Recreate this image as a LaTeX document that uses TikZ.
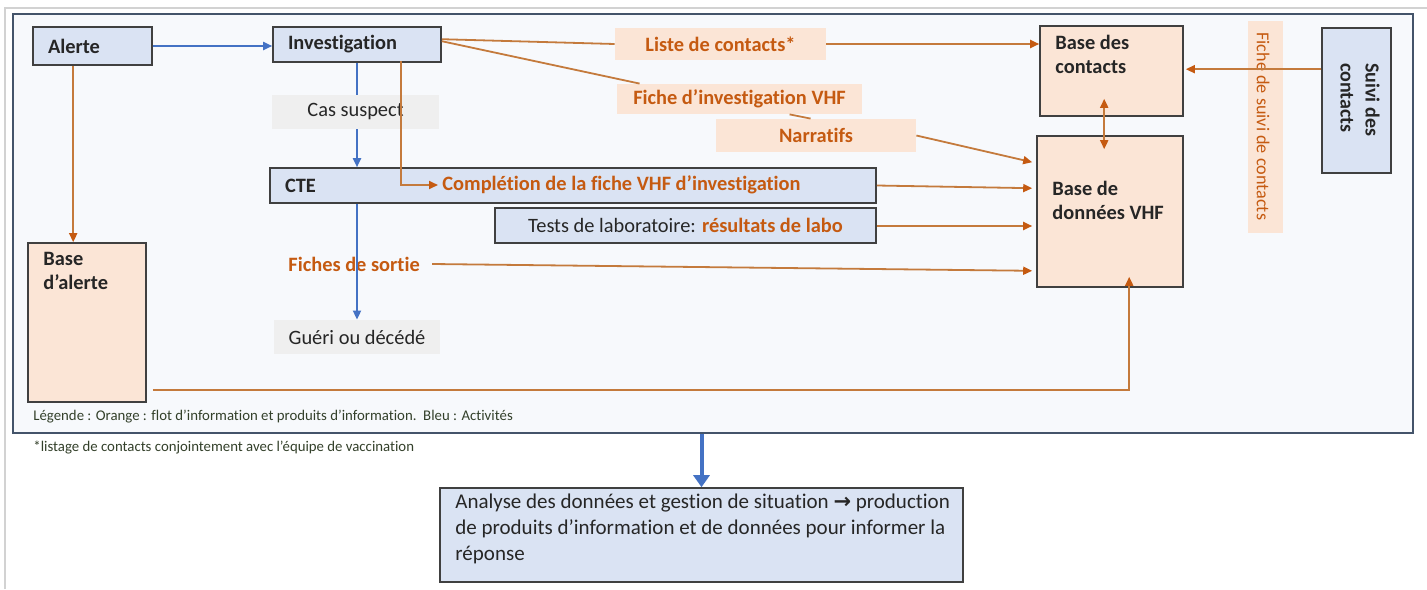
\documentclass[tikz,border=0pt]{standalone}
\usepackage{fontspec}
\setmainfont{Carlito}[Ligatures=NoCommon]
\newfontfamily\symf{DejaVu Sans}
\usetikzlibrary{arrows.meta,calc}
\definecolor{boxblue}{HTML}{DAE3F3}
\definecolor{peach}{HTML}{FBE5D6}
\definecolor{orangeT}{HTML}{C55A11}
\definecolor{orangeL}{HTML}{C47A3C}
\definecolor{blueL}{HTML}{4472C4}
\definecolor{grayfill}{HTML}{EFEFEF}
\definecolor{framebg}{HTML}{F7F9FC}
\definecolor{frameln}{HTML}{44546A}
\definecolor{boxln}{HTML}{404040}
\definecolor{txt}{HTML}{262626}
\definecolor{legtxt}{HTML}{33402A}
\begin{document}
\begin{tikzpicture}[x=0.5pt,y=-0.5pt,
  font=\fontsize{10.2}{12.5}\selectfont,
  bluebox/.style={draw=boxln, fill=boxblue, line width=0.8pt, inner sep=0pt, text=txt},
  peachbox/.style={draw=boxln, fill=peach, line width=0.8pt, inner sep=0pt},
  graybox/.style={fill=grayfill, inner sep=0pt, text=txt},
  tag/.style={fill=peach, inner sep=0pt, text=orangeT, font=\fontsize{10.2}{12.5}\selectfont\bfseries},
  btext/.style={inner sep=0pt, text=txt, font=\fontsize{10.2}{12}\selectfont\bfseries, align=left},
  otext/.style={inner sep=0pt, text=orangeT, font=\fontsize{10.2}{12.5}\selectfont\bfseries},
  oline/.style={draw=orangeL, line width=0.9pt},
  oarrow/.style={oline, -{Triangle[length=4.5pt,width=4pt,color=orangeT]}},
  obiarrow/.style={oline, {Triangle[length=4.5pt,width=4pt,color=orangeT]}-{Triangle[length=4.5pt,width=4pt,color=orangeT]}},
  bline/.style={draw=blueL, line width=0.9pt},
  barrow/.style={bline, -{Triangle[length=4.5pt,width=4pt]}},
  bigarrow/.style={draw=blueL, line width=2pt, -{Triangle[length=6pt,width=8pt]}},
  smalltext/.style={inner sep=0pt, text=legtxt, font=\fontsize{7.4}{9}\selectfont}
]
\useasboundingbox (0,0) rectangle (1427,589);
\fill[white] (0,0) rectangle (1427,589);
\draw[gray!35, line width=1pt] (5,589) -- (5,8) -- (1427,8);

% main frame
\node[draw=frameln, fill=framebg, line width=1pt, minimum width=700pt, minimum height=209.5pt, inner sep=0pt] (frame) at (713,223.5) {};

% activity boxes
\node[bluebox, minimum width=59.5pt, minimum height=19pt, text width=44.5pt, align=left, font=\fontsize{10.2}{12}\selectfont\bfseries] (alerte) at (92.5,46) {Alerte};
\node[bluebox, minimum width=84pt, minimum height=17.5pt, text width=69pt, align=left, font=\fontsize{10.2}{12}\selectfont\bfseries] (invest) at (357,44.5) {Investigation};
\node[graybox, minimum width=83.5pt, minimum height=17pt] (cas) at (355.5,112) {Cas suspect};
\node[bluebox, minimum width=303pt, minimum height=17.5pt, text width=288pt, align=left, font=\fontsize{10.2}{12}\selectfont\bfseries] (cte) at (573,185.5) {CTE};
\node[otext, anchor=west] (compl) at (442,185) {Complétion de la fiche VHF d’investigation};
\node[bluebox, minimum width=190.5pt, minimum height=17.5pt] (tests) at (685.5,225.5) {Tests de laboratoire: \textcolor{orangeT}{\bfseries résultats de labo}};
\node[graybox, minimum width=83pt, minimum height=17pt] (gueri) at (357,337) {Guéri ou décédé};
\node[otext, anchor=west] (fsortie) at (288,264) {Fiches de sortie};

% databases
\node[peachbox, minimum width=59pt, minimum height=79.5pt] (balerte) at (87,322.5) {};
\node[btext, anchor=north west] (balerteT) at (43,252) {Base\\d’alerte};
\node[peachbox, minimum width=71.5pt, minimum height=45pt] (bcont) at (1111.5,71) {};
\node[btext, anchor=north west] (bcontT) at (1055,35) {Base des\\contacts};
\node[peachbox, minimum width=73pt, minimum height=75.5pt] (bvhf) at (1110,211.5) {};
\node[btext, anchor=north west] (bvhfT) at (1052,181) {Base de\\données VHF};

% information tags
\node[tag, minimum width=105.5pt, minimum height=16pt] (liste) at (720.5,44) {Liste de contacts*};
\node[tag, minimum width=122.5pt, minimum height=15pt] (fiche) at (739.5,99) {Fiche d’investigation VHF};
\node[tag, minimum width=100pt, minimum height=16.5pt] (narr) at (816,135.5) {Narratifs};
\node[fill=peach, inner sep=0pt, minimum width=17.5pt, minimum height=106pt] (fsuivi) at (1265.5,127) {};
\node[inner sep=0pt, text=orangeT, rotate=-90, anchor=west, font=\fontsize{9.1}{11}\selectfont] (fsuiviT) at (1263,32) {Fiche de suivi de contacts};

% suivi des contacts
\node[bluebox, minimum width=34.5pt, minimum height=72.5pt] (suivi) at (1356.5,100.5) {};
\node[btext, rotate=-90, anchor=north west, font=\fontsize{10}{12.5}\selectfont\bfseries] (suiviT) at (1380,63) {Suivi des\\contacts};

% analysis
\node[bluebox, minimum width=261.5pt, minimum height=47pt] (analyse) at (701.5,535) {};
\node[inner sep=0pt, anchor=north west, align=left, text=txt, font=\fontsize{10.5}{13}\selectfont] (analyseT) at (455,494)
  {Analyse des données et gestion de situation {\symf\bfseries →} production\\de produits d’information et de données pour informer la\\réponse};

% legend and footnote
\node[smalltext, anchor=west] (legende) at (33,417) {Légende : Orange : flot d’information et produits d’information.\ \ Bleu : Activités};
\node[smalltext, anchor=west] (note) at (33,448) {*listage de contacts conjointement avec l’équipe de vaccination};

% blue activity flow
\draw[barrow] (alerte.east) -- (invest.west |- alerte.east);
\draw[bline] (invest.south) -- (invest.south |- cas.north);
\draw[barrow] (invest.south |- cas.south) -- (invest.south |- cte.north);
\draw[barrow] (invest.south |- cte.south) -- (invest.south |- gueri.north);

% orange information flow
\coordinate (a1) at ($(alerte.south west)+(41,0)$);
\draw[oarrow] (a1) -- (a1 |- balerte.north);
\coordinate (ci) at ($(invest.south west)+(129,-2)$);
\draw[oarrow] (ci) |- ([xshift=-2pt]compl.west);
\draw[oline] ($(invest.north east)+(0,13)$) -- (liste.west);
\draw[oarrow] (liste.east) -- (bcont.west |- liste.east);
\draw[oline] ($(invest.north east)+(0,15)$) -- ($(fiche.north west)+(23,0)$);
\draw[oline] ($(fiche.south west)+(173,0)$) -- ($(narr.north west)+(95,0)$);
\draw[oarrow] (narr.east) -- ($(bvhf.north west)+(-4,27)$);
\draw[oarrow] (cte.east) -- ($(bvhf.north west)+(-4,53)$);
\draw[oarrow] ($(tests.east)+(0,0.5)$) -- ($(bvhf.west |- tests.east)+(-4,0.5)$);
\draw[oarrow] ([xshift=6pt]fsortie.east) -- ($(bvhf.south west)+(-4,-17)$);
\draw[oarrow] ($(balerte.south east)+(6,-13)$) -| ($(bvhf.south west)+(93,-11)$);
\draw[obiarrow] ($(bcont.south west)+(65,-18)$) -- ($(bvhf.north west)+(68,14)$);
\draw[oarrow] ($(suivi.north west)+(0,42)$) -- ($(bcont.east |- suivi.north west)+(2,42)$);

% to analysis
\draw[bigarrow] (analyse.north |- frame.south) -- (analyse.north);
\end{tikzpicture}
\end{document}
